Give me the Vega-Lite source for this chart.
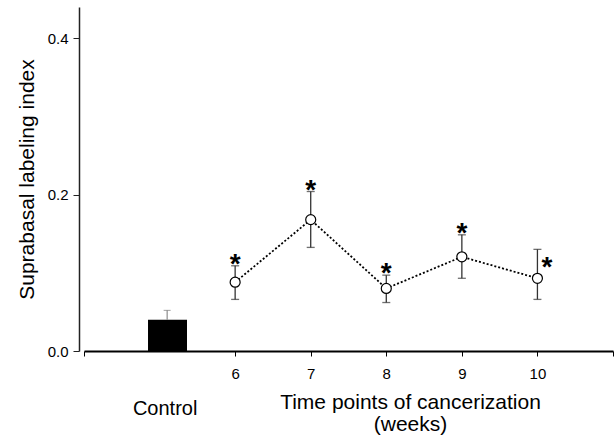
{
  "$schema": "https://vega.github.io/schema/vega-lite/v6.json",
  "width": 529,
  "height": 344,
  "autosize": "none",
  "padding": {"left": 84, "top": 7, "right": 2, "bottom": 90},
  "background": "white",
  "config": {
    "view": {"stroke": null},
    "font": "Liberation Sans",
    "axis": {"grid": false, "labelFont": "Liberation Sans", "labelColor": "#000", "titleColor": "#000", "titleFont": "Liberation Sans", "titleFontWeight": "normal"}
  },
  "datasets": {
    "control": [{"group": "Control", "x1": 4.847, "x2": 5.363, "xc": 5.1, "value": 0.04, "upper": 0.052}],
    "weeks": [
      {"week": 6, "mean": 0.088, "lower": 0.066, "upper": 0.109, "star_x": 6, "star_y": 0.1205},
      {"week": 7, "mean": 0.168, "lower": 0.1325, "upper": 0.204, "star_x": 7, "star_y": 0.2149},
      {"week": 8, "mean": 0.080, "lower": 0.062, "upper": 0.097, "star_x": 8, "star_y": 0.109},
      {"week": 9, "mean": 0.1205, "lower": 0.093, "upper": 0.1486, "star_x": 9, "star_y": 0.1601},
      {"week": 10, "mean": 0.093, "lower": 0.066, "upper": 0.130, "star_x": 10.127, "star_y": 0.1167}
    ]
  },
  "layer": [
    {
      "data": {"name": "control"},
      "mark": {"type": "bar", "color": "#000"},
      "encoding": {
        "x": {"field": "x1", "type": "quantitative", "scale": {"domain": [4, 11], "nice": false, "zero": false},
          "axis": {"values": [4, 6, 7, 8, 9, 10, 11], "format": "d", "labelExpr": "datum.value == 4 || datum.value == 11 ? '' : datum.label", "domainColor": "#000", "domainWidth": 2, "tickColor": "#000", "tickSize": 5, "tickWidth": 1, "labelFontSize": 15, "labelPadding": 10,
            "title": ["Time points of cancerization", "(weeks)"], "titleFontSize": 21, "titleLineHeight": 22, "titleX": 326, "titleY": 57, "titleAnchor": "start", "titleAlign": "center", "titleBaseline": "alphabetic"}},
        "x2": {"field": "x2"},
        "y": {"field": "value", "type": "quantitative", "scale": {"domain": [0, 0.44], "nice": false},
          "axis": {"values": [0, 0.2, 0.4], "format": ".1f", "offset": 5, "domainColor": "#222", "domainWidth": 1.5, "tickColor": "#222", "tickSize": 6, "labelFontSize": 15, "labelPadding": 5,
            "title": "Suprabasal labeling index", "titleFontSize": 21, "titlePadding": 10}},
        "y2": {"datum": 0}
      }
    },
    {
      "data": {"name": "control"},
      "mark": {"type": "rule", "color": "#777", "strokeWidth": 1},
      "encoding": {
        "x": {"field": "xc", "type": "quantitative"},
        "y": {"field": "value", "type": "quantitative"},
        "y2": {"field": "upper"}
      }
    },
    {
      "data": {"name": "control"},
      "mark": {"type": "tick", "color": "#777", "orient": "horizontal", "size": 7, "thickness": 1},
      "encoding": {
        "x": {"field": "xc", "type": "quantitative"},
        "y": {"field": "upper", "type": "quantitative"}
      }
    },
    {
      "data": {"name": "control"},
      "mark": {"type": "text", "fontSize": 20, "baseline": "alphabetic", "align": "center", "color": "#000", "dx": -2},
      "encoding": {
        "x": {"field": "xc", "type": "quantitative"},
        "y": {"datum": -0.082, "type": "quantitative"},
        "text": {"field": "group"}
      }
    },
    {
      "data": {"name": "weeks"},
      "mark": {"type": "rule", "color": "#333", "strokeWidth": 1.3},
      "encoding": {
        "x": {"field": "week", "type": "quantitative"},
        "y": {"field": "lower", "type": "quantitative"},
        "y2": {"field": "upper"}
      }
    },
    {
      "data": {"name": "weeks"},
      "mark": {"type": "tick", "color": "#333", "orient": "horizontal", "size": 8, "thickness": 1.3},
      "encoding": {
        "x": {"field": "week", "type": "quantitative"},
        "y": {"field": "upper", "type": "quantitative"}
      }
    },
    {
      "data": {"name": "weeks"},
      "mark": {"type": "tick", "color": "#333", "orient": "horizontal", "size": 8, "thickness": 1.3},
      "encoding": {
        "x": {"field": "week", "type": "quantitative"},
        "y": {"field": "lower", "type": "quantitative"}
      }
    },
    {
      "data": {"name": "weeks"},
      "mark": {"type": "line", "color": "#000", "strokeWidth": 1.8, "strokeDash": [2, 2]},
      "encoding": {
        "x": {"field": "week", "type": "quantitative"},
        "y": {"field": "mean", "type": "quantitative"}
      }
    },
    {
      "data": {"name": "weeks"},
      "mark": {"type": "point", "shape": "circle", "filled": true, "fill": "white", "stroke": "#000", "strokeWidth": 1.2, "size": 100, "opacity": 1},
      "encoding": {
        "x": {"field": "week", "type": "quantitative"},
        "y": {"field": "mean", "type": "quantitative"}
      }
    },
    {
      "data": {"name": "weeks"},
      "mark": {"type": "text", "text": "*", "fontSize": 28, "fontWeight": "bold", "baseline": "alphabetic", "align": "center", "dy": 16, "color": "#000"},
      "encoding": {
        "x": {"field": "star_x", "type": "quantitative"},
        "y": {"field": "star_y", "type": "quantitative"}
      }
    }
  ]
}
